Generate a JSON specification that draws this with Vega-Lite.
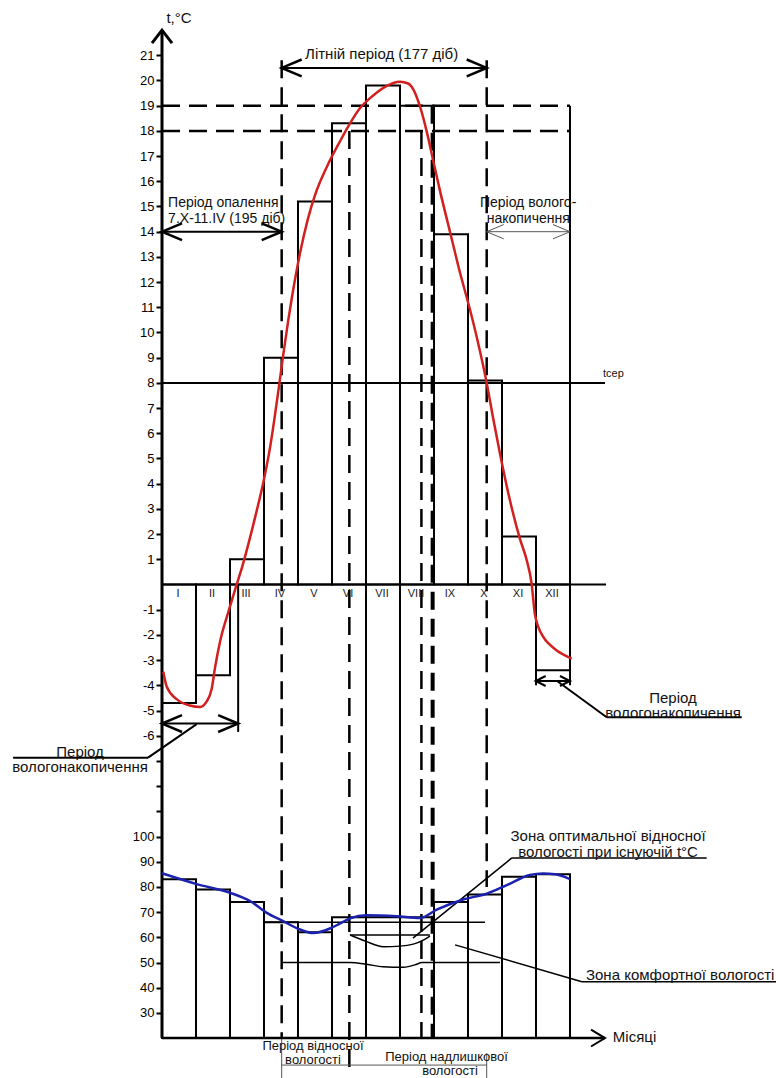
{
  "$schema": "https://vega.github.io/schema/vega-lite/v6.json",
  "width": 614,
  "height": 1078,
  "autosize": {"type": "none"},
  "padding": {"left": 162, "top": 0, "right": 0, "bottom": 0},
  "background": "white",
  "config": {"view": {"stroke": null}, "font": "Liberation Sans", "axis": {"grid": false}},
  "datasets": {
    "bars": [
      {"m": 0, "m2": 1, "name": "I", "t": -4.7, "h": 83},
      {"m": 1, "m2": 2, "name": "II", "t": -3.6, "h": 79},
      {"m": 2, "m2": 3, "name": "III", "t": 1.0, "h": 74},
      {"m": 3, "m2": 4, "name": "IV", "t": 9.0, "h": 66},
      {"m": 4, "m2": 5, "name": "V", "t": 15.2, "h": 62},
      {"m": 5, "m2": 6, "name": "VI", "t": 18.3, "h": 68},
      {"m": 6, "m2": 7, "name": "VII", "t": 19.8, "h": 68},
      {"m": 7, "m2": 8, "name": "VIII", "t": 19.0, "h": 68},
      {"m": 8, "m2": 9, "name": "IX", "t": 13.9, "h": 74},
      {"m": 9, "m2": 10, "name": "X", "t": 8.1, "h": 77},
      {"m": 10, "m2": 11, "name": "XI", "t": 1.9, "h": 84},
      {"m": 11, "m2": 12, "name": "XII", "t": -3.4, "h": 85}
    ]
  },
  "encoding": {
    "x": {"field": "m", "type": "quantitative", "scale": {"domain": [0, 18.059], "nice": false, "zero": false}, "axis": null}
  },
  "layer": [
    {
      "encoding": {
        "y": {
          "field": "t", "type": "quantitative",
          "scale": {"domain": [-19.583, 23.194], "nice": false, "zero": false},
          "axis": {
            "orient": "left",
            "values": [21, 20, 19, 18, 17, 16, 15, 14, 13, 12, 11, 10, 9, 8, 7, 6, 5, 4, 3, 2, 1, -1, -2, -3, -4, -5, -6, -7, -8, -9],
            "labelExpr": "datum.value < -6 ? '' : '' + datum.value",
            "domain": false, "grid": false, "tickSize": 6, "tickWidth": 2, "tickColor": "black",
            "labelColor": "black", "labelFontSize": 13, "labelFont": "Liberation Sans", "labelPadding": 2,
            "labelOverlap": false, "labelBound": false, "labelFlush": false, "title": null
          }
        }
      },
      "layer": [
        {
          "data": {"name": "bars"},
          "mark": {"type": "rect", "fill": "transparent", "stroke": "black", "strokeWidth": 2},
          "encoding": {"x2": {"field": "m2"}, "y2": {"datum": 0}}
        },
        {
          "data": {"name": "bars"},
          "mark": {"type": "text", "dx": 16, "dy": 10, "fontSize": 11, "color": "#222", "align": "center", "baseline": "middle"},
          "encoding": {"y": {"datum": 0}, "text": {"field": "name"}}
        },
        {
          "data": {"values": [
            {"m": 0, "m2": 13.06, "t": 0, "t2": 0},
            {"m": 0, "m2": 13.03, "t": 8, "t2": 8},
            {"m": 2.24, "m2": 2.24, "t": 0, "t2": -5.85},
            {"m": 6, "m2": 6, "t": 0, "t2": -18},
            {"m": 7, "m2": 7, "t": 0, "t2": -18},
            {"m": 11, "m2": 11, "t": 0, "t2": -4.0},
            {"m": 12, "m2": 12, "t": 19, "t2": -4.0},
            {"m": 3.52, "m2": 9.55, "t": 20.5, "t2": 20.5},
            {"m": 0, "m2": 3.52, "t": 14, "t2": 14},
            {"m": 0, "m2": 2.24, "t": -5.52, "t2": -5.52},
            {"m": 10.99, "m2": 12, "t": -3.83, "t2": -3.83},
            {"m": -4.38, "m2": -0.41, "t": -6.87, "t2": -6.87},
            {"m": -0.41, "m2": 1.02, "t": -6.87, "t2": -5.54},
            {"m": 13.08, "m2": 17.05, "t": -5.27, "t2": -5.27},
            {"m": 13.08, "m2": 11.61, "t": -5.27, "t2": -3.82}
          ]},
          "mark": {"type": "rule", "color": "black", "strokeWidth": 2},
          "encoding": {"x2": {"field": "m2"}, "y2": {"field": "t2"}}
        },
        {
          "data": {"values": [{"m": 0, "m2": 0, "t": 22.0, "t2": -18}]},
          "mark": {"type": "rule", "color": "black", "strokeWidth": 3},
          "encoding": {"x2": {"field": "m2"}, "y2": {"field": "t2"}}
        },
        {
          "data": {"values": [
            {"m": 0, "m2": 12, "t": 19, "t2": 19},
            {"m": 0, "m2": 12, "t": 18, "t2": 18},
            {"m": 3.52, "m2": 3.52, "t": 20.8, "t2": -18},
            {"m": 5.51, "m2": 5.51, "t": 18, "t2": -19.5},
            {"m": 7.63, "m2": 7.63, "t": 18, "t2": -18},
            {"m": 9.55, "m2": 9.55, "t": 20.8, "t2": -12}
          ]},
          "mark": {"type": "rule", "color": "black", "strokeWidth": 2.5, "strokeDash": [18, 9]},
          "encoding": {"x2": {"field": "m2"}, "y2": {"field": "t2"}}
        },
        {
          "data": {"values": [{"m": 7.96, "m2": 7.96, "t": 19, "t2": -18}]},
          "mark": {"type": "rule", "color": "black", "strokeWidth": 4, "strokeDash": [18, 9]},
          "encoding": {"x2": {"field": "m2"}, "y2": {"field": "t2"}}
        },
        {
          "data": {"values": [
            {"m": 9.55, "m2": 12, "t": 14, "t2": 14},
            {"m": 3.52, "m2": 3.52, "t": -18, "t2": -19.6},
            {"m": 9.55, "m2": 9.55, "t": -18.6, "t2": -19.6},
            {"m": 3.52, "m2": 9.55, "t": -19.07, "t2": -19.07}
          ]},
          "mark": {"type": "rule", "color": "#555", "strokeWidth": 1},
          "encoding": {"x2": {"field": "m2"}, "y2": {"field": "t2"}}
        },
        {
          "data": {"values": [{"m": 3.52, "t": 20.5}, {"m": 0, "t": 14}, {"m": 0, "t": -5.52}]},
          "mark": {"type": "point", "shape": "M 1 -0.42 L 0 0 L 1 0.42", "size": 1600, "filled": false, "stroke": "black", "strokeWidth": 2.5, "opacity": 1}
        },
        {
          "data": {"values": [{"m": 9.55, "t": 20.5}, {"m": 3.52, "t": 14}, {"m": 2.24, "t": -5.52}]},
          "mark": {"type": "point", "shape": "M -1 -0.42 L 0 0 L -1 0.42", "size": 1600, "filled": false, "stroke": "black", "strokeWidth": 2.5, "opacity": 1}
        },
        {
          "data": {"values": [{"m": 10.99, "t": -3.83}]},
          "mark": {"type": "point", "shape": "M 1 -0.5 L 0 0 L 1 0.5", "size": 400, "filled": false, "stroke": "black", "strokeWidth": 2, "opacity": 1}
        },
        {
          "data": {"values": [{"m": 12, "t": -3.83}]},
          "mark": {"type": "point", "shape": "M -1 -0.5 L 0 0 L -1 0.5", "size": 400, "filled": false, "stroke": "black", "strokeWidth": 2, "opacity": 1}
        },
        {
          "data": {"values": [{"m": 9.55, "t": 14}]},
          "mark": {"type": "point", "shape": "M 1 -0.42 L 0 0 L 1 0.42", "size": 1156, "filled": false, "stroke": "#555", "strokeWidth": 1, "opacity": 1}
        },
        {
          "data": {"values": [{"m": 12, "t": 14}]},
          "mark": {"type": "point", "shape": "M -1 -0.42 L 0 0 L -1 0.42", "size": 1156, "filled": false, "stroke": "#555", "strokeWidth": 1, "opacity": 1}
        },
        {
          "data": {"values": [{"m": 0, "t": 22.0}]},
          "mark": {"type": "point", "shape": "M -0.77 1 L 0 0 L 0.77 1", "size": 676, "filled": false, "stroke": "black", "strokeWidth": 3, "opacity": 1}
        },
        {
          "data": {"values": [
            {"m": 0.04, "t": -3.46}, {"m": 0.14, "t": -4.06}, {"m": 0.43, "t": -4.55}, {"m": 0.82, "t": -4.8},
            {"m": 1.12, "t": -4.86}, {"m": 1.31, "t": -4.65}, {"m": 1.46, "t": -4.15}, {"m": 1.56, "t": -3.3},
            {"m": 1.71, "t": -2.25}, {"m": 1.95, "t": -1.1}, {"m": 2.15, "t": -0.2}, {"m": 2.39, "t": 0.85},
            {"m": 2.54, "t": 1.6}, {"m": 2.79, "t": 2.95}, {"m": 2.98, "t": 4.05}, {"m": 3.18, "t": 5.45},
            {"m": 3.32, "t": 6.7}, {"m": 3.45, "t": 7.95}, {"m": 3.57, "t": 9.15}, {"m": 3.71, "t": 10.45},
            {"m": 3.81, "t": 11.3}, {"m": 4.06, "t": 13.15}, {"m": 4.29, "t": 14.5}, {"m": 4.5, "t": 15.45},
            {"m": 4.84, "t": 16.55}, {"m": 5.24, "t": 17.6}, {"m": 5.53, "t": 18.3}, {"m": 5.82, "t": 18.9},
            {"m": 6.12, "t": 19.3}, {"m": 6.56, "t": 19.75}, {"m": 7.0, "t": 19.95}, {"m": 7.24, "t": 19.88},
            {"m": 7.39, "t": 19.65}, {"m": 7.59, "t": 18.96}, {"m": 7.79, "t": 17.95}, {"m": 7.98, "t": 16.8},
            {"m": 8.18, "t": 15.6}, {"m": 8.47, "t": 14.0}, {"m": 8.76, "t": 12.4}, {"m": 9.06, "t": 10.9},
            {"m": 9.26, "t": 9.8}, {"m": 9.55, "t": 8.0}, {"m": 9.74, "t": 6.6}, {"m": 9.94, "t": 5.2},
            {"m": 10.24, "t": 3.3}, {"m": 10.53, "t": 1.8}, {"m": 10.73, "t": 0.95}, {"m": 10.87, "t": 0.05},
            {"m": 10.97, "t": -1.2}, {"m": 11.21, "t": -2.07}, {"m": 11.4, "t": -2.38}, {"m": 11.61, "t": -2.62},
            {"m": 12.05, "t": -2.94}
          ]},
          "mark": {"type": "line", "color": "#d21f1f", "strokeWidth": 2.5, "interpolate": "monotone"}
        },
        {
          "data": {"values": [
            {"m": 6.46, "t": 21.05, "label": "Літній період (177 діб)"},
            {"m": 15.03, "t": -4.49, "label": "Період"},
            {"m": 15.03, "t": -5.09, "label": "вологонакопичення"},
            {"m": -2.41, "t": -6.63, "label": "Період"},
            {"m": -2.41, "t": -7.24, "label": "вологонакопичення"},
            {"m": 0.5, "t": 22.48, "label": "t,°C"}
          ]},
          "mark": {"type": "text", "fontSize": 15, "color": "#111", "align": "center", "baseline": "middle"},
          "encoding": {"text": {"field": "label"}}
        },
        {
          "data": {"values": [
            {"m": 0.18, "t": 15.12, "label": "Період опалення"},
            {"m": 0.18, "t": 14.5, "label": "7.X-11.IV (195 діб)"},
            {"m": 9.35, "t": 15.12, "label": "Період волого-"},
            {"m": 9.55, "t": 14.5, "label": "накопичення"}
          ]},
          "mark": {"type": "text", "fontSize": 14, "color": "#111", "align": "left", "baseline": "middle"},
          "encoding": {"text": {"field": "label"}}
        },
        {
          "data": {"values": [
            {"m": 13.26, "t": -17.96, "label": "Місяці"}
          ]},
          "mark": {"type": "text", "fontSize": 15, "color": "#111", "align": "left", "baseline": "middle"},
          "encoding": {"text": {"field": "label"}}
        },
        {
          "data": {"values": [{"m": 12.97, "t": 8.35, "label": "tcep"}]},
          "mark": {"type": "text", "fontSize": 11, "color": "#111", "align": "left", "baseline": "middle"},
          "encoding": {"text": {"field": "label"}}
        }
      ]
    },
    {
      "encoding": {
        "y": {
          "field": "h", "type": "quantitative",
          "scale": {"domain": [4.17, 431.94], "nice": false, "zero": false},
          "axis": {
            "orient": "left",
            "values": [30, 40, 50, 60, 70, 80, 90, 100],
            "labelExpr": "'' + datum.value",
            "domain": false, "grid": false, "tickSize": 6, "tickWidth": 2, "tickColor": "black",
            "labelColor": "black", "labelFontSize": 13, "labelFont": "Liberation Sans", "labelPadding": 2,
            "labelOverlap": false, "labelBound": false, "labelFlush": false, "title": null
          }
        }
      },
      "layer": [
        {
          "data": {"name": "bars"},
          "mark": {"type": "rect", "fill": "transparent", "stroke": "black", "strokeWidth": 2},
          "encoding": {"x2": {"field": "m2"}, "y2": {"datum": 20}}
        },
        {
          "data": {"values": [
            {"m": 0, "m2": 13.03, "h": 20, "h2": 20}
          ]},
          "mark": {"type": "rule", "color": "black", "strokeWidth": 2.5},
          "encoding": {"x2": {"field": "m2"}, "y2": {"field": "h2"}}
        },
        {
          "data": {"values": [
            {"m": 3.0, "m2": 9.5, "h": 66, "h2": 66},
            {"m": 5.53, "m2": 7.88, "h": 60.9, "h2": 60.9},
            {"m": 10.29, "m2": 16.02, "h": 91.5, "h2": 91.5},
            {"m": 10.29, "m2": 7.38, "h": 91.5, "h2": 59.7},
            {"m": 12.35, "m2": 18.09, "h": 42.4, "h2": 42.4},
            {"m": 12.35, "m2": 8.62, "h": 42.4, "h2": 57.0}
          ]},
          "mark": {"type": "rule", "color": "black", "strokeWidth": 1.5},
          "encoding": {"x2": {"field": "m2"}, "y2": {"field": "h2"}}
        },
        {
          "data": {"values": [
            {"s": "low", "m": 3.56, "h": 50}, {"s": "low", "m": 5.53, "h": 50}, {"s": "low", "m": 6.02, "h": 49.3},
            {"s": "low", "m": 6.5, "h": 48.3}, {"s": "low", "m": 7.1, "h": 48.1}, {"s": "low", "m": 7.49, "h": 49.3},
            {"s": "low", "m": 7.64, "h": 50}, {"s": "low", "m": 9.94, "h": 50},
            {"s": "opt", "m": 5.53, "h": 60.9}, {"s": "opt", "m": 6.0, "h": 58.4}, {"s": "opt", "m": 6.51, "h": 56.3},
            {"s": "opt", "m": 7.0, "h": 56.5}, {"s": "opt", "m": 7.39, "h": 57.3}, {"s": "opt", "m": 7.7, "h": 59.0},
            {"s": "opt", "m": 7.88, "h": 60.5}
          ]},
          "mark": {"type": "line", "color": "black", "strokeWidth": 1.5, "interpolate": "monotone"},
          "encoding": {"detail": {"field": "s"}}
        },
        {
          "data": {"values": [{"m": 13.03, "h": 20}]},
          "mark": {"type": "point", "shape": "M -1 -0.6 L 0 0 L -1 0.6", "size": 784, "filled": false, "stroke": "black", "strokeWidth": 2, "opacity": 1}
        },
        {
          "data": {"values": [
            {"m": 0, "h": 85.4}, {"m": 1.02, "h": 81.1}, {"m": 2.0, "h": 77.7}, {"m": 2.59, "h": 74.4},
            {"m": 3.08, "h": 69.7}, {"m": 3.52, "h": 66.7}, {"m": 4.06, "h": 63.1}, {"m": 4.45, "h": 61.7},
            {"m": 4.94, "h": 63.5}, {"m": 5.24, "h": 65.5}, {"m": 5.53, "h": 67.5}, {"m": 6.02, "h": 68.8},
            {"m": 6.9, "h": 68.4}, {"m": 7.59, "h": 67.7}, {"m": 8.08, "h": 71}, {"m": 8.86, "h": 75},
            {"m": 9.55, "h": 77.3}, {"m": 10.14, "h": 80.7}, {"m": 10.82, "h": 84.7}, {"m": 11.21, "h": 85.3},
            {"m": 11.56, "h": 85}, {"m": 12.0, "h": 83.1}
          ]},
          "mark": {"type": "line", "color": "#1c22b0", "strokeWidth": 2.5, "interpolate": "monotone"}
        },
        {
          "data": {"values": [
            {"m": 13.12, "h": 100.2, "label": "Зона оптимальної відносної"},
            {"m": 13.12, "h": 94.0, "label": "вологості при існуючій t°C"},
            {"m": 15.24, "h": 45.0, "label": "Зона комфортної вологості"}
          ]},
          "mark": {"type": "text", "fontSize": 15, "color": "#111", "align": "center", "baseline": "middle"},
          "encoding": {"text": {"field": "label"}}
        },
        {
          "data": {"values": [
            {"m": 4.44, "h": 17.0, "label": "Період відносної"},
            {"m": 4.44, "h": 11.2, "label": "вологості"},
            {"m": 8.37, "h": 12.7, "label": "Період надлишкової"},
            {"m": 8.47, "h": 6.9, "label": "вологості"}
          ]},
          "mark": {"type": "text", "fontSize": 13, "color": "#111", "align": "center", "baseline": "middle"},
          "encoding": {"text": {"field": "label"}}
        }
      ]
    }
  ],
  "resolve": {"scale": {"y": "independent"}}
}
